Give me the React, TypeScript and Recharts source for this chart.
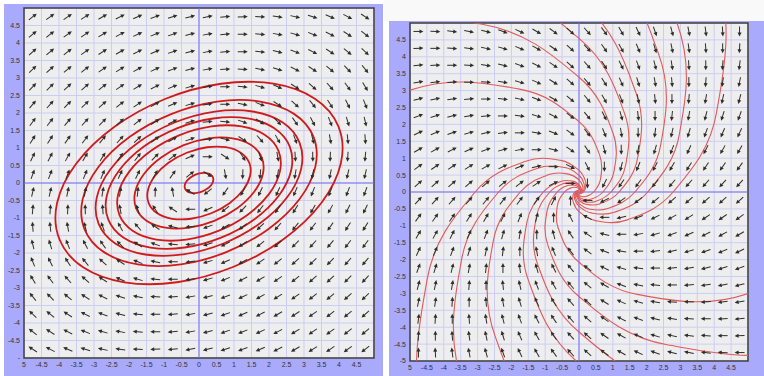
import React from 'react'
import {
  ComposedChart,
  XAxis,
  YAxis,
  CartesianGrid,
  Scatter,
  Line,
  ReferenceLine,
  ReferenceArea
} from 'recharts'

// cell centres of the direction field, -4.75 .. 4.75
const GRID = [
  -4.75, -4.25, -3.75, -3.25, -2.75, -2.25, -1.75, -1.25, -0.75, -0.25,
  0.25, 0.75, 1.25, 1.75, 2.25, 2.75, 3.25, 3.75, 4.25, 4.75
]
const TICKS = [
  -5, -4.5, -4, -3.5, -3, -2.5, -2, -1.5, -1, -0.5,
  0, 0.5, 1, 1.5, 2, 2.5, 3, 3.5, 4, 4.5
]

// arrow directions in degrees, one row per y (top row y = 4.75), columns follow GRID
const LEFT_ANGLES = [
  [38, 36, 34, 32, 30, 27, 24, 21, 18, 14, 11, 6, 2, -3, -8, -13, -18, -23, -28, -33],
  [40, 38, 36, 34, 31, 28, 25, 22, 19, 15, 10, 6, 1, -5, -10, -16, -22, -27, -33, -38],
  [42, 40, 38, 35, 33, 30, 27, 23, 19, 15, 10, 5, -1, -7, -14, -20, -27, -33, -39, -44],
  [44, 42, 40, 38, 35, 32, 29, 25, 20, 15, 10, 3, -4, -11, -18, -26, -33, -40, -46, -51],
  [47, 45, 43, 41, 38, 35, 31, 27, 22, 16, 9, 1, -7, -16, -24, -33, -41, -48, -54, -59],
  [50, 48, 46, 44, 41, 38, 34, 29, 23, 16, 8, -1, -12, -22, -33, -42, -51, -57, -63, -68],
  [54, 52, 50, 48, 45, 42, 38, 33, 26, 18, 7, -6, -19, -33, -45, -55, -62, -68, -73, -77],
  [58, 57, 55, 53, 51, 48, 43, 38, 30, 19, 5, -14, -33, -49, -61, -70, -76, -80, -84, -86],
  [64, 63, 61, 60, 58, 55, 52, 46, 38, 23, -1, -33, -57, -72, -80, -86, -89, -92, -94, -95],
  [70, 69, 69, 68, 67, 66, 64, 61, 55, 38, -33, -80, -92, -96, -99, -100, -101, -102, -103, -103],
  [77, 77, 78, 79, 80, 81, 84, 88, 100, 147, 218, 235, 241, 244, 246, 247, 248, 249, 249, 250],
  [85, 86, 88, 91, 94, 100, 108, 123, 147, 179, 203, 218, 226, 232, 235, 238, 240, 241, 243, 244],
  [94, 96, 100, 104, 110, 119, 131, 147, 166, 185, 199, 210, 218, 223, 228, 231, 233, 235, 237, 238],
  [103, 107, 112, 118, 125, 135, 147, 161, 174, 187, 198, 206, 213, 218, 222, 225, 228, 230, 232, 234],
  [112, 117, 123, 129, 138, 147, 158, 168, 179, 188, 196, 203, 209, 214, 218, 221, 224, 226, 228, 230],
  [121, 126, 132, 139, 147, 156, 164, 173, 181, 189, 196, 202, 207, 211, 215, 218, 221, 223, 225, 227],
  [129, 134, 140, 147, 154, 162, 169, 176, 183, 190, 195, 200, 205, 209, 212, 215, 218, 220, 222, 224],
  [136, 141, 147, 153, 160, 166, 173, 179, 185, 190, 195, 199, 203, 207, 210, 213, 215, 218, 220, 222],
  [142, 147, 153, 158, 164, 170, 175, 181, 186, 190, 195, 199, 202, 205, 208, 211, 214, 216, 218, 220],
  [147, 152, 157, 162, 167, 172, 177, 182, 186, 191, 194, 198, 201, 204, 207, 210, 212, 214, 216, 218]
]

const RIGHT_ANGLES = [
  [0, -3, -7, -11, -15, -20, -25, -30, -36, -42, -48, -54, -60, -65, -70, -75, -79, -83, -87, -90],
  [3, 0, -4, -8, -12, -17, -23, -29, -35, -42, -48, -55, -61, -67, -73, -78, -82, -86, -90, -93],
  [7, 4, 0, -4, -9, -14, -20, -27, -34, -41, -49, -56, -63, -70, -76, -81, -86, -90, -94, -97],
  [11, 8, 4, 0, -5, -10, -17, -24, -32, -41, -49, -58, -66, -73, -80, -85, -90, -94, -98, -101],
  [15, 12, 9, 5, 0, -6, -13, -21, -30, -40, -50, -60, -69, -78, -84, -90, -95, -99, -102, -105],
  [20, 17, 14, 10, 6, 0, -7, -16, -27, -39, -51, -63, -74, -83, -90, -96, -100, -104, -107, -110],
  [25, 23, 20, 17, 13, 7, 0, -10, -22, -37, -53, -68, -81, -90, -97, -103, -107, -110, -113, -115],
  [30, 29, 27, 24, 21, 16, 10, 0, -14, -34, -56, -76, -90, -100, -106, -111, -114, -117, -119, -120],
  [36, 35, 34, 32, 30, 27, 22, 14, 0, -27, -63, -90, -104, -112, -117, -120, -122, -124, -125, -126],
  [42, 42, 41, 41, 40, 39, 37, 34, 27, 0, -90, -117, -124, -127, -129, -130, -131, -131, -132, -132],
  [48, 48, 49, 49, 50, 51, 53, 56, 63, 90, 180, 207, 214, 217, 219, 220, 221, 221, 222, 222],
  [54, 55, 56, 58, 60, 63, 68, 76, 90, 117, 153, 180, 194, 202, 207, 210, 212, 214, 215, 216],
  [60, 61, 63, 66, 69, 74, 81, 90, 104, 124, 146, 166, 180, 190, 196, 201, 204, 207, 209, 210],
  [65, 67, 70, 73, 78, 83, 90, 100, 112, 127, 143, 158, 171, 180, 187, 193, 197, 200, 203, 205],
  [70, 73, 76, 80, 84, 90, 97, 106, 117, 129, 141, 153, 164, 173, 180, 186, 190, 194, 197, 200],
  [75, 78, 81, 85, 90, 96, 103, 111, 120, 130, 140, 150, 159, 168, 174, 180, 185, 189, 192, 195],
  [79, 82, 86, 90, 95, 100, 107, 114, 122, 131, 139, 148, 156, 163, 170, 175, 180, 184, 188, 191],
  [83, 86, 90, 94, 99, 104, 110, 117, 124, 131, 139, 146, 153, 160, 166, 171, 176, 180, 184, 187],
  [87, 90, 94, 98, 102, 107, 113, 119, 125, 132, 138, 145, 151, 157, 163, 168, 172, 176, 180, 183],
  [90, 93, 97, 101, 105, 110, 115, 120, 126, 132, 138, 144, 150, 155, 160, 165, 169, 173, 177, 180]
]

// closed orbits around the centre (x, y pairs)
const LEFT_ORBITS = [
  [[3.986, 1.613], [3.311, 2.409], [2.131, 2.838], [0.63, 2.836], [-0.971, 2.401], [-2.424, 1.6], [-3.505, 0.558], [-4.055, -0.571],
   [-3.986, -1.613], [-3.311, -2.409], [-2.131, -2.838], [-0.63, -2.836], [0.971, -2.401], [2.424, -1.6], [3.505, -0.558], [4.055, 0.571]],
  [[3.269, 1.323], [2.715, 1.975], [1.747, 2.327], [0.517, 2.326], [-0.796, 1.969], [-1.988, 1.312], [-2.874, 0.458], [-3.325, -0.468],
   [-3.269, -1.323], [-2.715, -1.975], [-1.747, -2.327], [-0.517, -2.326], [0.796, -1.969], [1.988, -1.312], [2.874, -0.458], [3.325, 0.468]],
  [[2.87, 1.161], [2.384, 1.734], [1.534, 2.043], [0.454, 2.042], [-0.699, 1.729], [-1.745, 1.152], [-2.524, 0.402], [-2.92, -0.411],
   [-2.87, -1.161], [-2.384, -1.734], [-1.534, -2.043], [-0.454, -2.042], [0.699, -1.729], [1.745, -1.152], [2.524, -0.402], [2.92, 0.411]],
  [[2.591, 1.048], [2.152, 1.566], [1.385, 1.845], [0.41, 1.843], [-0.631, 1.561], [-1.576, 1.04], [-2.278, 0.363], [-2.636, -0.371],
   [-2.591, -1.048], [-2.152, -1.566], [-1.385, -1.845], [-0.41, -1.843], [0.631, -1.561], [1.576, -1.04], [2.278, -0.363], [2.636, 0.371]],
  [[2.272, 0.919], [1.887, 1.373], [1.215, 1.618], [0.359, 1.617], [-0.553, 1.369], [-1.382, 0.912], [-1.998, 0.318], [-2.311, -0.325],
   [-2.272, -0.919], [-1.887, -1.373], [-1.215, -1.618], [-0.359, -1.617], [0.553, -1.369], [1.382, -0.912], [1.998, -0.318], [2.311, 0.325]],
  [[1.794, 0.726], [1.49, 1.084], [0.959, 1.277], [0.284, 1.276], [-0.437, 1.08], [-1.091, 0.72], [-1.577, 0.251], [-1.825, -0.257],
   [-1.794, -0.726], [-1.49, -1.084], [-0.959, -1.277], [-0.284, -1.276], [0.437, -1.08], [1.091, -0.72], [1.577, -0.251], [1.825, 0.257]],
  [[1.435, 0.581], [1.192, 0.867], [0.767, 1.022], [0.227, 1.021], [-0.35, 0.864], [-0.873, 0.576], [-1.262, 0.201], [-1.46, -0.206],
   [-1.435, -0.581], [-1.192, -0.867], [-0.767, -1.022], [-0.227, -1.021], [0.35, -0.864], [0.873, -0.576], [1.262, -0.201], [1.46, 0.206]],
  [[0.399, 0.161], [0.331, 0.241], [0.213, 0.284], [0.063, 0.284], [-0.097, 0.24], [-0.242, 0.16], [-0.351, 0.056], [-0.406, -0.057],
   [-0.399, -0.161], [-0.331, -0.241], [-0.213, -0.284], [-0.063, -0.284], [0.097, -0.24], [0.242, -0.16], [0.351, -0.056], [0.406, 0.057]]
]

// trajectories spiralling into the origin, starting outside the frame
const RIGHT_SPIRALS = [
  [[-10.01, 0], [-5.135, 2.965], [-1.758, 3.044], [0, 2.082], [0.617, 1.069], [0.633, 0.366], [0.433, 0], [0.222, -0.128], [0.076, -0.132], [0, -0.09], [-0.027, -0.046], [-0.027, -0.016]],
  [[-16.32, 0], [-8.374, 4.835], [-2.865, 4.962], [0, 3.395], [1.006, 1.742], [1.032, 0.596], [0.706, 0], [0.362, -0.209], [0.124, -0.215], [0, -0.147], [-0.044, -0.075], [-0.045, -0.026], [-0.031, 0]],
  [[-11.206, 6.47], [-3.834, 6.64], [0, 4.543], [1.346, 2.331], [1.381, 0.798], [0.945, 0], [0.485, -0.28], [0.166, -0.288], [0, -0.197], [-0.058, -0.101], [-0.06, -0.035], [-0.041, 0], [-0.021, 0.012]],
  [[-4.81, 8.331], [0, 5.7], [1.689, 2.925], [1.733, 1.001], [1.186, 0], [0.609, -0.352], [0.208, -0.361], [0, -0.247], [-0.073, -0.127], [-0.075, -0.043], [-0.051, 0], [-0.026, 0.015]],
  [[-6.71, 11.622], [0, 7.951], [2.356, 4.08], [2.417, 1.396], [1.654, 0], [0.849, -0.49], [0.29, -0.503], [0, -0.344], [-0.102, -0.176], [-0.105, -0.06], [-0.072, 0], [-0.037, 0.021], [-0.013, 0.022]],
  [[0, 9.77], [2.895, 5.013], [2.97, 1.715], [2.032, 0], [1.043, -0.602], [0.357, -0.618], [0, -0.423], [-0.125, -0.217], [-0.128, -0.074], [-0.088, 0], [-0.045, 0.026], [-0.015, 0.027]],
  [[0, 13.38], [3.964, 6.866], [4.068, 2.349], [2.783, 0], [1.428, -0.825], [0.489, -0.846], [0, -0.579], [-0.172, -0.297], [-0.176, -0.102], [-0.12, 0], [-0.062, 0.036], [-0.021, 0.037], [0, 0.025]],
  [[9.99, 0], [5.126, -2.96], [1.754, -3.037], [0, -2.078], [-0.616, -1.066], [-0.632, -0.365], [-0.432, 0], [-0.222, 0.128], [-0.076, 0.131], [0, 0.09], [0.027, 0.046], [0.027, 0.016]],
  [[14.88, 0], [7.63, -4.405], [2.61, -4.521], [0, -3.093], [-0.917, -1.587], [-0.941, -0.543], [-0.643, 0], [-0.33, 0.191], [-0.113, 0.196], [0, 0.134], [0.04, 0.069], [0.041, 0.024], [0.028, 0]],
  [[10.219, -5.9], [3.496, -6.055], [0, -4.143], [-1.228, -2.126], [-1.26, -0.728], [-0.862, 0], [-0.442, 0.255], [-0.151, 0.262], [0, 0.179], [0.053, 0.092], [0.054, 0.031], [0.037, 0], [0.019, -0.011]],
  [[4.278, -7.41], [0, -5.069], [-1.502, -2.601], [-1.541, -0.89], [-1.054, 0], [-0.541, 0.312], [-0.185, 0.321], [0, 0.219], [0.065, 0.112], [0.067, 0.039], [0.046, 0], [0.023, -0.0135]],
  [[7.05, -12.21], [0, -8.354], [-2.475, -4.287], [-2.54, -1.467], [-1.738, 0], [-0.892, 0.515], [-0.305, 0.528], [0, 0.361], [0.107, 0.185], [0.11, 0.063], [0.075, 0], [0.0385, -0.022], [0.013, -0.023]],
  [[0, -11.43], [-3.386, -5.865], [-3.475, -2.006], [-2.377, 0], [-1.22, 0.7045], [-0.4175, 0.723], [0, 0.4945], [0.1465, 0.2537], [0.1503, 0.0868], [0.1029, 0], [0.0527, -0.0305], [0.018, -0.0313], [0, -0.0214]],
  [[0, -14.78], [-4.379, -7.584], [-4.494, -2.595], [-3.074, 0], [-1.578, 0.911], [-0.54, 0.935], [0, 0.6395], [0.1895, 0.328], [0.1944, 0.1123], [0.133, 0], [0.0682, -0.0394], [0.0234, -0.0404], [0, -0.0277]]
]

const toField = (rows: number[][]) =>
  rows.flatMap((row, r) => row.map((a, c) => ({ x: GRID[c], y: GRID[GRID.length - 1 - r], a })))

const toPoints = (pts: number[][]) => pts.map(([x, y]) => ({ x, y }))

// Catmull-Rom through every point; closed variant wraps around
const smooth = (closed: boolean) => (context: any) => {
  let pts: number[][] = []
  return {
    areaStart() {},
    areaEnd() {},
    lineStart() {
      pts = []
    },
    point(x: number, y: number) {
      pts.push([+x, +y])
    },
    lineEnd() {
      const n = pts.length
      if (!n) return
      const at = (i: number) => (closed ? pts[(i + n) % n] : pts[Math.max(0, Math.min(n - 1, i))])
      context.moveTo(pts[0][0], pts[0][1])
      const segs = closed ? n : n - 1
      for (let i = 0; i < segs; i++) {
        const p0 = at(i - 1)
        const p1 = at(i)
        const p2 = at(i + 1)
        const p3 = at(i + 2)
        context.bezierCurveTo(
          p1[0] + (p2[0] - p0[0]) / 6,
          p1[1] + (p2[1] - p0[1]) / 6,
          p2[0] - (p3[0] - p1[0]) / 6,
          p2[1] - (p3[1] - p1[1]) / 6,
          p2[0],
          p2[1]
        )
      }
      if (closed) context.closePath()
    }
  }
}

const closedCurve = smooth(true)
const openCurve = smooth(false)

const Arrow = (props: any) => {
  const { cx, cy, payload } = props
  if (cx == null || cy == null) return null
  return (
    <g transform={`translate(${cx},${cy}) rotate(${-payload.a})`}>
      <line x1={-5} y1={0} x2={2.5} y2={0} stroke="#2e2e2e" strokeWidth={1} />
      <path d="M5,0 L1,-2 L1,2 Z" fill="#2e2e2e" />
    </g>
  )
}

const tickStyle = { fontSize: 7, fill: '#333', fontFamily: '"Liberation Sans", Arial, sans-serif' }

type PanelProps = {
  width: number
  height: number
  margin: { top: number; right: number; bottom: number; left: number }
  yWidth: number
  xHeight: number
  angles: number[][]
  curves: number[][][]
  closed: boolean
  curveColor: string
  curveWidth: number
  yLow: string
}

const Panel = ({ width, height, margin, yWidth, xHeight, angles, curves, closed, curveColor, curveWidth, yLow }: PanelProps) => (
  <ComposedChart width={width} height={height} margin={margin}>
    <CartesianGrid stroke="#cdcdf4" strokeWidth={1} fill="#eeeeee" fillOpacity={1} />
    <XAxis
      type="number"
      dataKey="x"
      domain={[-5, 5]}
      ticks={TICKS}
      interval={0}
      allowDataOverflow
      height={xHeight}
      tickSize={2}
      tickMargin={2}
      tickLine={false}
      axisLine={false}
      tick={tickStyle}
      tickFormatter={(v: number) => (v === -5 ? '5' : String(v))}
    />
    <YAxis
      type="number"
      dataKey="y"
      domain={[-5, 5]}
      ticks={TICKS}
      interval={0}
      allowDataOverflow
      width={yWidth}
      tickSize={2}
      tickMargin={2}
      tickLine={false}
      axisLine={false}
      tick={tickStyle}
      tickFormatter={(v: number) => (v === -5 ? yLow : String(v))}
    />
    <ReferenceLine x={0} stroke="#7070f6" strokeWidth={1} />
    <ReferenceLine y={0} stroke="#7070f6" strokeWidth={1} />
    <Scatter data={toField(angles)} shape={Arrow} isAnimationActive={false} />
    {curves.map((c, i) => (
      <Line
        key={i}
        data={toPoints(c)}
        dataKey="y"
        type={closed ? closedCurve : openCurve}
        stroke={curveColor}
        strokeWidth={curveWidth}
        dot={false}
        activeDot={false}
        isAnimationActive={false}
      />
    ))}
    <ReferenceArea x1={-5} x2={5} y1={-5} y2={5} fill="none" stroke="#3c3c3c" strokeWidth={1.5} />
  </ComposedChart>
)

export default function App() {
  return (
    <div style={{ position: 'absolute', left: 0, top: 0, width: 764, height: 376, background: '#fff', overflow: 'hidden' }}>
      <div style={{ position: 'absolute', left: 384, top: 0, width: 380, height: 21, background: '#f9f9f9' }} />
      <div style={{ position: 'absolute', left: 4, top: 4, width: 379, height: 372, background: '#aaaafc' }}>
        <Panel
          width={379}
          height={372}
          margin={{ top: 4, right: 9, bottom: 0, left: 0 }}
          yWidth={20}
          xHeight={18}
          angles={LEFT_ANGLES}
          curves={LEFT_ORBITS}
          closed
          curveColor="#cf1b1b"
          curveWidth={1.8}
          yLow="-"
        />
      </div>
      <div style={{ position: 'absolute', left: 389, top: 21, width: 375, height: 355, background: '#aaaafc' }}>
        <Panel
          width={375}
          height={355}
          margin={{ top: 2, right: 16, bottom: 0, left: 0 }}
          yWidth={21}
          xHeight={15}
          angles={RIGHT_ANGLES}
          curves={RIGHT_SPIRALS}
          closed={false}
          curveColor="#e05a5a"
          curveWidth={1.1}
          yLow="-5"
        />
      </div>
    </div>
  )
}
